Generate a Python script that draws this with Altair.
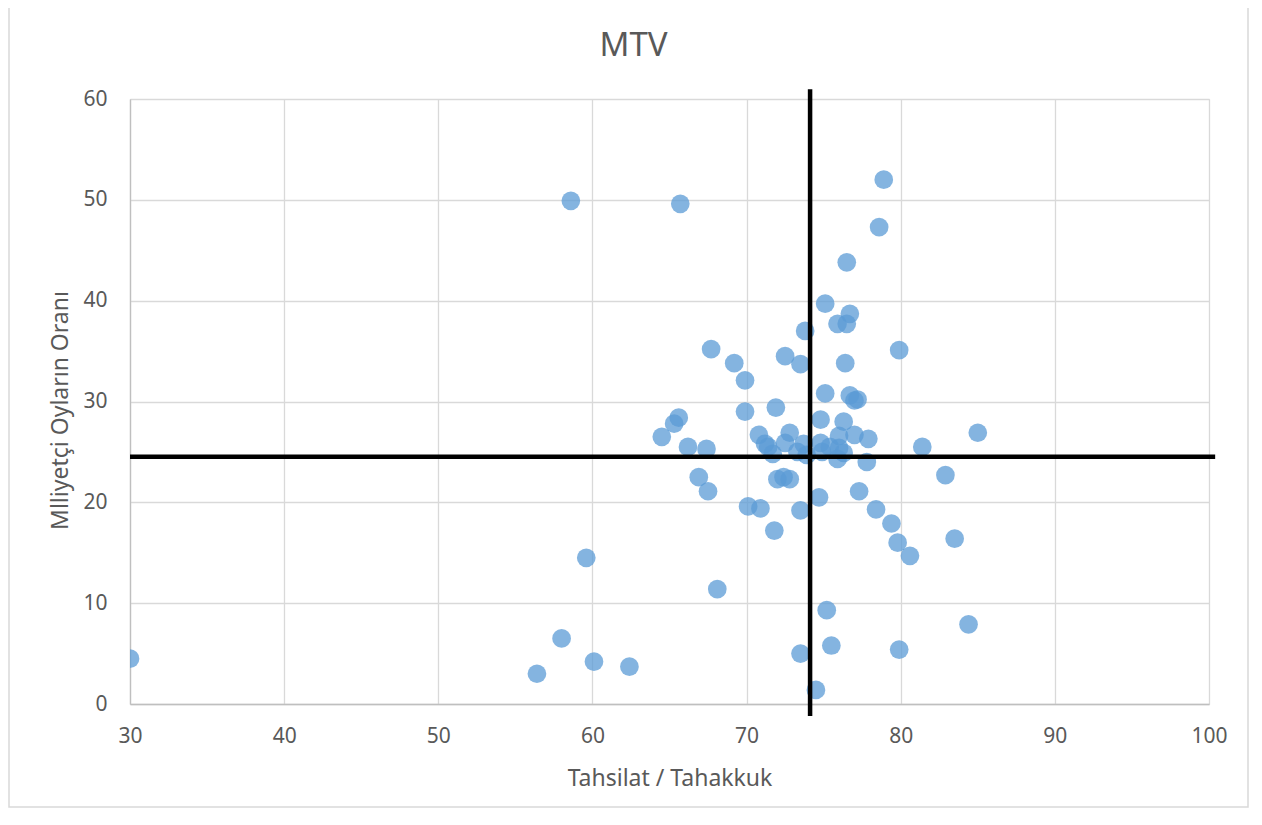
import altair as alt
import pandas as pd

# Tahsilat / Tahakkuk values
xs = [30.0, 56.4, 58.0, 60.1, 62.4, 59.6, 58.6, 65.7, 78.9, 78.6,
      76.5, 75.1, 76.7, 75.9, 76.5, 73.8, 67.7, 79.9, 72.5, 69.2,
      73.5, 76.4, 69.9, 75.1, 76.7, 77.2, 77.0, 69.9, 71.9, 65.6,
      65.3, 74.8, 76.3, 64.5, 70.8, 72.8, 77.0, 77.9, 81.4, 76.0,
      66.2, 67.4, 71.2, 71.4, 71.7, 72.5, 73.3, 73.7, 73.9, 74.8,
      74.9, 75.4, 76.0, 76.3, 75.9, 77.8, 66.9, 67.5, 72.0, 72.4,
      72.8, 77.3, 82.9, 70.1, 70.9, 74.7, 73.5, 78.4, 79.4, 71.8,
      79.8, 83.5, 80.6, 68.1, 75.2, 84.4, 75.5, 73.5, 79.9, 74.5,
      85.0]
# Milliyetçi oyların oranı values
ys = [4.5, 3.0, 6.5, 4.2, 3.7, 14.5, 49.9, 49.6, 52.0, 47.3,
      43.8, 39.7, 38.7, 37.7, 37.7, 37.0, 35.2, 35.1, 34.5, 33.8,
      33.7, 33.8, 32.1, 30.8, 30.6, 30.2, 30.1, 29.0, 29.4, 28.4,
      27.8, 28.2, 28.0, 26.5, 26.7, 26.9, 26.7, 26.3, 25.5, 26.6,
      25.5, 25.3, 25.8, 25.5, 24.8, 25.9, 25.0, 25.8, 24.7, 25.9,
      25.0, 25.5, 25.4, 24.9, 24.3, 24.0, 22.5, 21.1, 22.3, 22.5,
      22.3, 21.1, 22.7, 19.6, 19.4, 20.5, 19.2, 19.3, 17.9, 17.2,
      16.0, 16.4, 14.7, 11.4, 9.3, 7.9, 5.8, 5.0, 5.4, 1.4,
      26.9]

# quadrant reference lines
vline_x = [74.12]
vline_y = [-1.2]
vline_y2 = [60.96]
hline_y = [24.53]
hline_x = [30.0]
hline_x2 = [100.4]

x_ticks = [30, 40, 50, 60, 70, 80, 90, 100]
y_ticks = [0, 10, 20, 30, 40, 50, 60]
title_text = ["MTV"]

FONT = "Noto Sans"
TXT = "#595959"

pts = pd.DataFrame({"x": xs, "y": ys})
vdf = pd.DataFrame({"x": vline_x, "y": vline_y, "y2": vline_y2})
hdf = pd.DataFrame({"y": hline_y, "x": hline_x, "x2": hline_x2})
tdf = pd.DataFrame({"t": title_text})

xscale = alt.Scale(domain=[30, 100], nice=False, zero=False)
yscale = alt.Scale(domain=[0, 60], nice=False, zero=False)

xaxis = alt.Axis(values=x_ticks, title="Tahsilat / Tahakkuk", grid=True,
                 gridColor="#d9d9d9", gridWidth=1.3, domainColor="#bfbfbf",
                 domainWidth=1.3, ticks=False, tickSize=0, labelFlush=False,
                 labelFont=FONT, labelFontSize=21, labelColor=TXT,
                 labelBaseline="alphabetic", labelPadding=38,
                 titleFont=FONT, titleFontSize=23, titleColor=TXT,
                 titleFontWeight="normal", titleBaseline="alphabetic",
                 titleY=81)
yaxis = alt.Axis(values=y_ticks, title="Mlliyetçi Oyların Oranı", grid=True,
                 gridColor="#d9d9d9", gridWidth=1.3, domainColor="#bfbfbf",
                 domainWidth=1.3, ticks=False, tickSize=0, labelFlush=False,
                 labelFont=FONT, labelFontSize=21, labelColor=TXT,
                 labelPadding=23,
                 titleFont=FONT, titleFontSize=23, titleColor=TXT,
                 titleFontWeight="normal", titleBaseline="alphabetic",
                 titleAngle=270, titleX=-63, titleY=311)

# outer chart border (decoration)
border = alt.Chart(pd.DataFrame({"a": [0]})).mark_rect(
    fill=None, stroke="#d9d9d9", strokeWidth=1.5, clip=False
).encode(x=alt.value(-121), x2=alt.value(1118), y=alt.value(-110), y2=alt.value(708))

# chart title as a text mark (centered over the whole chart, like Excel)
title = alt.Chart(tdf).mark_text(
    font=FONT, fontSize=33, color=TXT, align="center", baseline="alphabetic", clip=False
).encode(text="t:N", x=alt.value(503.5), y=alt.value(-43))

points = alt.Chart(pts).mark_circle(
    size=350, color="#5b9bd5", opacity=0.75, clip=True
).encode(
    x=alt.X("x:Q", scale=xscale, axis=xaxis),
    y=alt.Y("y:Q", scale=yscale, axis=yaxis),
)

vrule = alt.Chart(vdf).mark_rule(color="black", strokeWidth=4.5, clip=False).encode(
    x=alt.X("x:Q", scale=xscale), y=alt.Y("y:Q", scale=yscale), y2="y2:Q"
)
hrule = alt.Chart(hdf).mark_rule(color="black", strokeWidth=4.5, clip=False).encode(
    y=alt.Y("y:Q", scale=yscale), x=alt.X("x:Q", scale=xscale), x2="x2:Q"
)

chart = alt.layer(border, title, points, vrule, hrule).properties(
    width=1079, height=605,
    autosize=alt.AutoSizeParams(type="none"),
    padding={"left": 122, "top": 91, "right": 40, "bottom": 104},
).configure_view(stroke=None).configure(background="white")

chart.save("out.html", embed_options={"renderer": "svg", "actions": False})
